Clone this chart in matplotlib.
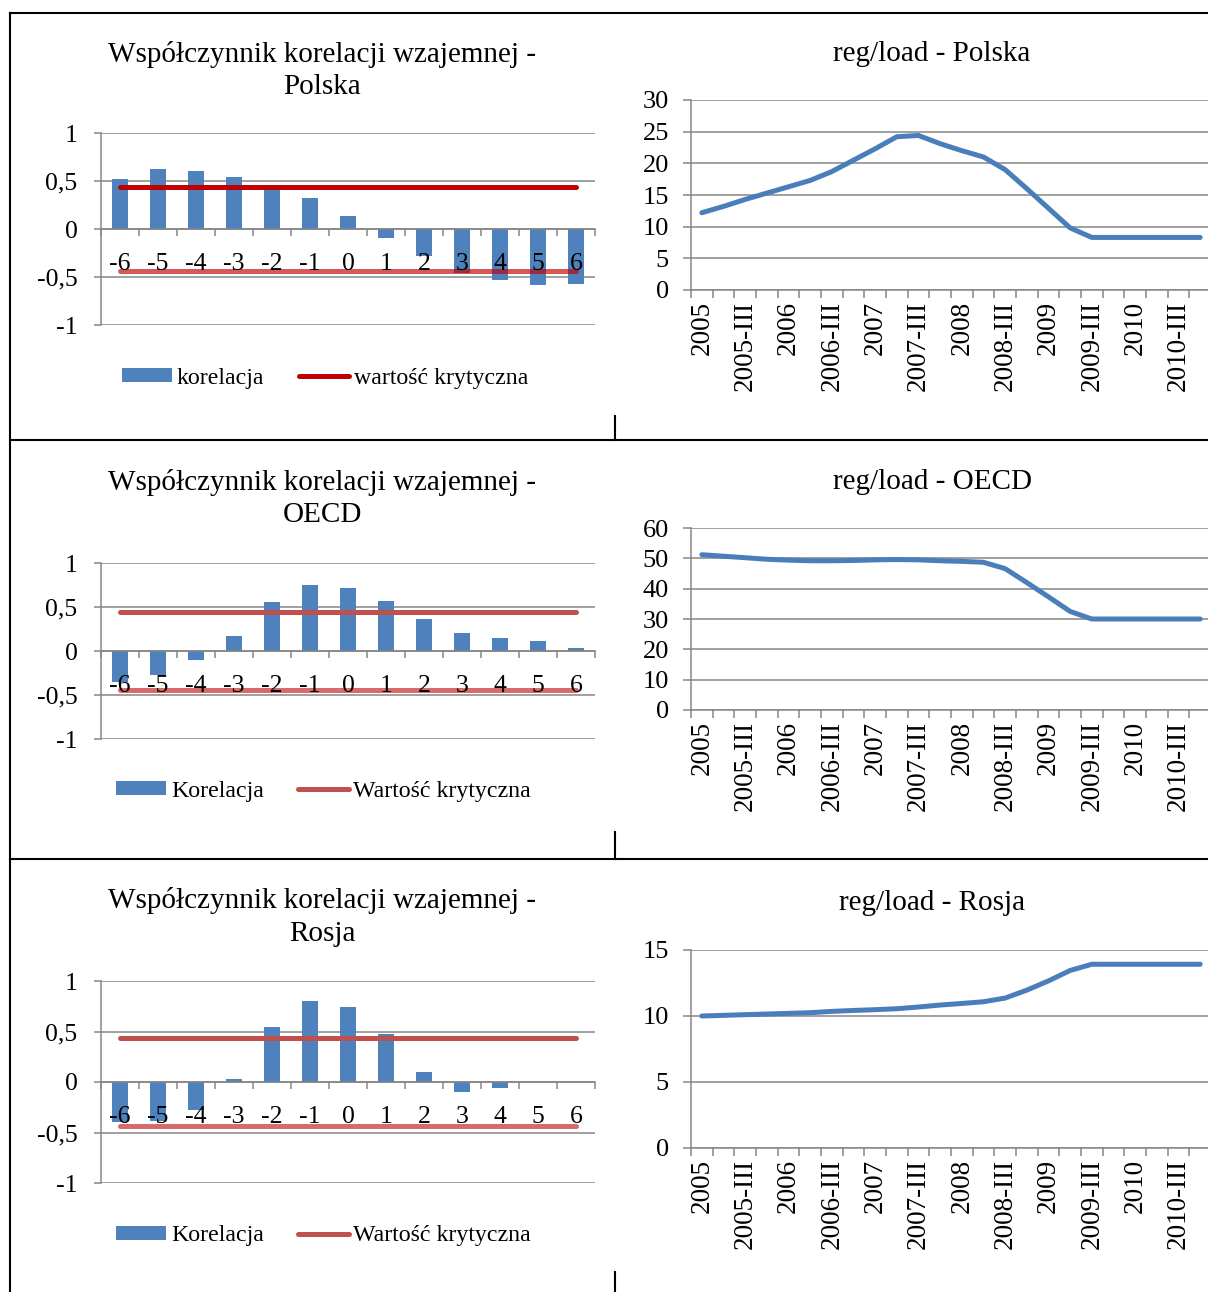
import matplotlib
matplotlib.use("Agg")
import matplotlib.pyplot as plt
from matplotlib.lines import Line2D
from matplotlib.ticker import FuncFormatter

plt.rcParams['font.family'] = ['Liberation Serif', 'DejaVu Serif']

W, H = 1208, 1292

# --- data ---
lags = [-6, -5, -4, -3, -2, -1, 0, 1, 2, 3, 4, 5, 6]
kor_polska = [0.52, 0.63, 0.60, 0.54, 0.45, 0.32, 0.14, -0.09, -0.28, -0.46, -0.53, -0.58, -0.57]
kor_oecd = [-0.35, -0.27, -0.10, 0.17, 0.56, 0.75, 0.72, 0.57, 0.36, 0.21, 0.15, 0.11, 0.035]
kor_rosja = [-0.40, -0.39, -0.28, 0.025, 0.54, 0.80, 0.745, 0.48, 0.10, -0.10, -0.06, 0.0, 0.0]
krytyczna_polska = 0.44
krytyczna_oecd = 0.44
krytyczna_rosja = 0.44

quarters = []
for y in range(2005, 2011):
    quarters += [str(y), f"{y}-II", f"{y}-III", f"{y}-IV"]

reg_polska = [12.2, 13.2, 14.3, 15.3, 16.3, 17.3, 18.7, 20.5, 22.3, 24.2, 24.4, 23.1,
              22.0, 21.0, 19.0, 16.0, 12.9, 9.8, 8.3, 8.3, 8.3, 8.3, 8.3, 8.3]
reg_oecd = [51.2, 50.7, 50.2, 49.7, 49.4, 49.2, 49.2, 49.3, 49.5, 49.6, 49.5, 49.2,
            49.0, 48.7, 46.6, 42.0, 37.3, 32.5, 30.0, 30.0, 30.0, 30.0, 30.0, 30.0]
reg_rosja = [10.0, 10.05, 10.1, 10.15, 10.2, 10.25, 10.35, 10.42, 10.48, 10.55, 10.68, 10.83,
             10.95, 11.08, 11.36, 11.96, 12.66, 13.45, 13.92, 13.92, 13.92, 13.92, 13.92, 13.92]

BLUE = '#4F81BD'
LINE_BLUE = '#4A7EBB'
GRID = '#868686'


def box(l, t, r, b):
    return [l / W, 1 - b / H, (r - l) / W, (b - t) / H]


fig = plt.figure(figsize=(W / 100, H / 100), dpi=100)


def bar_panel(rect, values, crit, up_col, low_col, low_alpha, labels, leg_x, leg_y):
    ax = fig.add_axes(box(*rect))
    bars = ax.bar(lags, values, width=0.4, color=BLUE, zorder=2, label=labels[0])
    ln, = ax.plot([lags[0], lags[-1]], [crit, crit], color=up_col, lw=3.6,
                  solid_capstyle='round', zorder=3, label=labels[1])
    ax.plot([lags[0], lags[-1]], [-crit, -crit], color=low_col, lw=3.6, alpha=low_alpha,
            solid_capstyle='round', zorder=3)
    ax.set_xlim(-6.5, 6.5)
    ax.set_ylim(-1, 1)
    ax.set_yticks([-1, -0.5, 0, 0.5, 1])
    ax.yaxis.set_major_formatter(FuncFormatter(lambda v, p: f"{v:g}".replace('.', ',')))
    ax.grid(axis='y', color=GRID, lw=1.1)
    for s in ['top', 'right']:
        ax.spines[s].set_visible(False)
    ax.spines['bottom'].set_position(('data', 0))
    ax.spines['bottom'].set_color(GRID)
    ax.spines['left'].set_color(GRID)
    ax.spines['bottom'].set_linewidth(1.1)
    ax.spines['left'].set_linewidth(1.1)
    ax.set_xticks([k + 0.5 for k in range(-7, 7)])
    ax.set_xticklabels([])
    ax.set_xticks(lags, minor=True)
    ax.set_xticklabels([str(v) for v in lags], minor=True)
    ax.tick_params(axis='x', which='major', length=5, color=GRID, width=1.1, direction='out')
    ax.tick_params(axis='x', which='minor', length=0, pad=17, labelsize=18.5)
    ax.tick_params(axis='y', length=5, color=GRID, width=1.1, pad=12, labelsize=18.5)
    ax.set_axisbelow(True)
    ax.xaxis.set_zorder(5)
    ax.legend([bars, ln], labels, loc='center left', bbox_to_anchor=(leg_x / W, 1 - leg_y / H),
              bbox_transform=fig.transFigure, ncol=2, frameon=False, fontsize=17.2,
              handlelength=2.1, handleheight=0.5, handletextpad=0.2, columnspacing=1.45,
              borderpad=0, borderaxespad=0)
    return ax


def line_panel(rect, values, ymax, step):
    ax = fig.add_axes(box(*rect))
    ax.plot(range(len(values)), values, color=LINE_BLUE, lw=3.6, solid_capstyle='round',
            solid_joinstyle='round', zorder=3)
    ax.set_xlim(-0.5, 23.5)
    ax.set_ylim(0, ymax)
    ax.set_yticks(range(0, ymax + 1, step))
    ax.grid(axis='y', color=GRID, lw=1.1)
    for s in ['top', 'right']:
        ax.spines[s].set_visible(False)
    ax.spines['bottom'].set_color(GRID)
    ax.spines['left'].set_color(GRID)
    ax.spines['bottom'].set_linewidth(1.1)
    ax.spines['left'].set_linewidth(1.1)
    ax.set_xticks([k - 0.5 for k in range(len(values) + 1)])
    ax.set_xticklabels([])
    ax.set_xticks(range(0, len(values), 2), minor=True)
    ax.set_xticklabels(quarters[::2], minor=True, rotation=90, va='top')
    ax.tick_params(axis='x', which='major', length=6, color=GRID, width=1.1)
    ax.tick_params(axis='x', which='minor', length=0, pad=8, labelsize=19.5)
    ax.tick_params(axis='y', length=6, color=GRID, width=1.1, pad=10, labelsize=19)
    ax.set_axisbelow(True)
    return ax


bar_panel((101, 133, 595, 325), kor_polska, krytyczna_polska, '#C00000', '#C00000', 0.65,
          ['korelacja', 'wartość krytyczna'], 122, 378)
bar_panel((101, 563, 595, 739), kor_oecd, krytyczna_oecd, '#C0504D', '#D35B5B', 0.9,
          ['Korelacja', 'Wartość krytyczna'], 116, 791)
bar_panel((101, 981, 595, 1183), kor_rosja, krytyczna_rosja, '#C0504D', '#D35B5B', 0.9,
          ['Korelacja', 'Wartość krytyczna'], 116, 1236)

line_panel((691, 100, 1211, 290), reg_polska, 30, 5)
line_panel((691, 528, 1211, 710), reg_oecd, 60, 10)
line_panel((691, 950, 1211, 1148), reg_rosja, 15, 5)

# titles
tkw = dict(ha='center', va='center', fontsize=21)
fig.text(322 / W, 1 - 54 / H, 'Współczynnik korelacji wzajemnej -', **tkw)
fig.text(322 / W, 1 - 87 / H, 'Polska', **tkw)
fig.text(322 / W, 1 - 482 / H, 'Współczynnik korelacji wzajemnej -', **tkw)
fig.text(322 / W, 1 - 515 / H, 'OECD', **tkw)
fig.text(322 / W, 1 - 900 / H, 'Współczynnik korelacji wzajemnej -', **tkw)
fig.text(322 / W, 1 - 934 / H, 'Rosja', **tkw)
fig.text(932 / W, 1 - 54 / H, 'reg/load - Polska', **tkw)
fig.text(932 / W, 1 - 482 / H, 'reg/load - OECD', **tkw)
fig.text(932 / W, 1 - 903 / H, 'reg/load - Rosja', **tkw)

# table borders


def seg(x0, y0, x1, y1):
    fig.add_artist(Line2D([x0 / W, x1 / W], [1 - y0 / H, 1 - y1 / H], color='black', lw=1.5,
                          transform=fig.transFigure))


seg(10, 13, W, 13)
seg(10, 13, 10, H)
seg(10, 440, W, 440)
seg(10, 859, W, 859)
seg(615, 416, 615, 440)
seg(615, 832, 615, 859)
seg(615, 1272, 615, H)

fig.savefig('out.png', dpi=100)
